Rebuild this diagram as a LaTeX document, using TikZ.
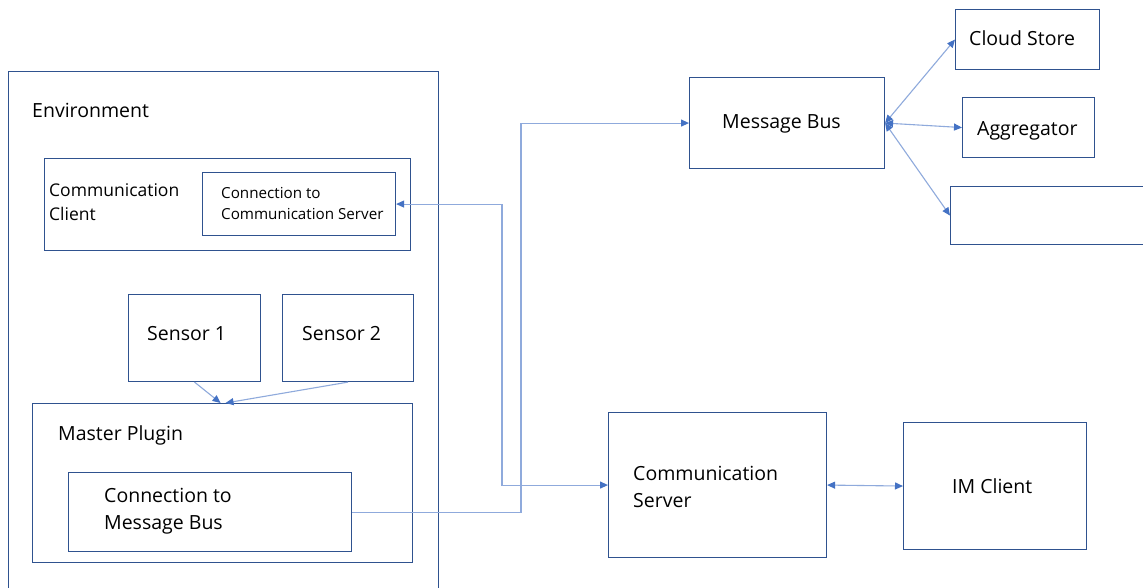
\documentclass[tikz,border=0pt]{standalone}
\usepackage{fontspec}
\setmainfont{Open Sans}
\usetikzlibrary{arrows.meta}
\definecolor{boxline}{RGB}{47,82,143}
\definecolor{connline}{RGB}{143,170,220}
\definecolor{tipblue}{RGB}{68,114,196}
\tikzset{
  box/.style={draw=boxline, line width=1.1pt, inner sep=0pt, anchor=north west, fill=white},
  lbl/.style={anchor=west, inner sep=0pt, font=\fontsize{19.5}{24}\selectfont, text=black, align=left},
  mid/.style={anchor=west, inner sep=0pt, font=\fontsize{17.5}{24}\selectfont, text=black, align=left},
  small/.style={anchor=west, inner sep=0pt, font=\fontsize{15.2}{21}\selectfont, text=black, align=left},
  conn/.style={draw=connline, line width=1.1pt, arrows={-}, >={Triangle[length=8pt,width=7pt,color=tipblue,fill=tipblue]}},
}
\begin{document}
\begin{tikzpicture}[x=1pt,y=-1pt]
\useasboundingbox (0,0) rectangle (1143,587);
\clip (0,0) rectangle (1143,587);
\fill[white] (0,0) rectangle (1143,587);

% environment and its contents
\node[box, minimum width=430pt, minimum height=540pt] (env) at (8,71) {};
\node[lbl] (envt) at (32,110) {Environment};

\node[box, minimum width=366pt, minimum height=92pt] (cc) at (44,158) {};
\node[mid] (cct) at (49,202.5) {Communication\\Client};
\node[box, minimum width=193pt, minimum height=63pt] (ccs) at (202,172) {};
\node[small] (ccst) at (221,203.5) {Connection to\\Communication Server};

\node[box, minimum width=132pt, minimum height=87pt] (s1) at (128,294) {};
\node[lbl] (s1t) at (147,334) {Sensor 1};
\node[box, minimum width=131pt, minimum height=87pt] (s2) at (282,294) {};
\node[lbl] (s2t) at (302,334) {Sensor 2};

\node[box, minimum width=380pt, minimum height=159pt] (mp) at (32,403) {};
\node[lbl] (mpt) at (58,435) {Master Plugin};
\node[box, minimum width=283pt, minimum height=79pt] (cmb) at (68,472) {};
\node[lbl] (cmbt) at (104,511.5) {Connection to\\[3pt]Message Bus};

% right-hand side
\node[box, minimum width=195pt, minimum height=91pt] (mb) at (689,77) {};
\node[lbl] (mbt) at (722,124) {Message Bus};
\node[box, minimum width=144pt, minimum height=60pt] (cls) at (955,9) {};
\node[lbl] (clst) at (969,38) {Cloud Store};
\node[box, minimum width=132pt, minimum height=60pt] (agg) at (962,97) {};
\node[lbl] (aggt) at (977,131) {Aggregator};
\node[box, minimum width=220pt, minimum height=58pt] (emp) at (950,186) {};

\node[box, minimum width=218pt, minimum height=145pt] (cs) at (608,412) {};
\node[lbl] (cst) at (633,486.5) {Communication\\[3pt]Server};
\node[box, minimum width=183pt, minimum height=127pt] (im) at (903,422) {};
\node[lbl] (imt) at (952,486) {IM Client};

% connectors
\coordinate (jcs) at (502,0);
\coordinate (jmb) at (521,0);
\draw[conn,<->] (ccs.east) -- (ccs.east -| jcs) |- (cs.west);
\draw[conn,->] (cmb.east) -- (cmb.east -| jmb) |- (mb.west);
\draw[conn,<->] (cs.east) -- (im.west);
\draw[conn,<->] (mb.east) -- (cls.west);
\draw[conn,<->] (mb.east) -- (agg.west);
\draw[conn,<->] (mb.east) -- (emp.west);
\draw[conn,->] (s1.south) -- ([xshift=-2pt]mp.north);
\draw[conn,->] (s2.south) -- ([xshift=3pt]mp.north);
\end{tikzpicture}
\end{document}
